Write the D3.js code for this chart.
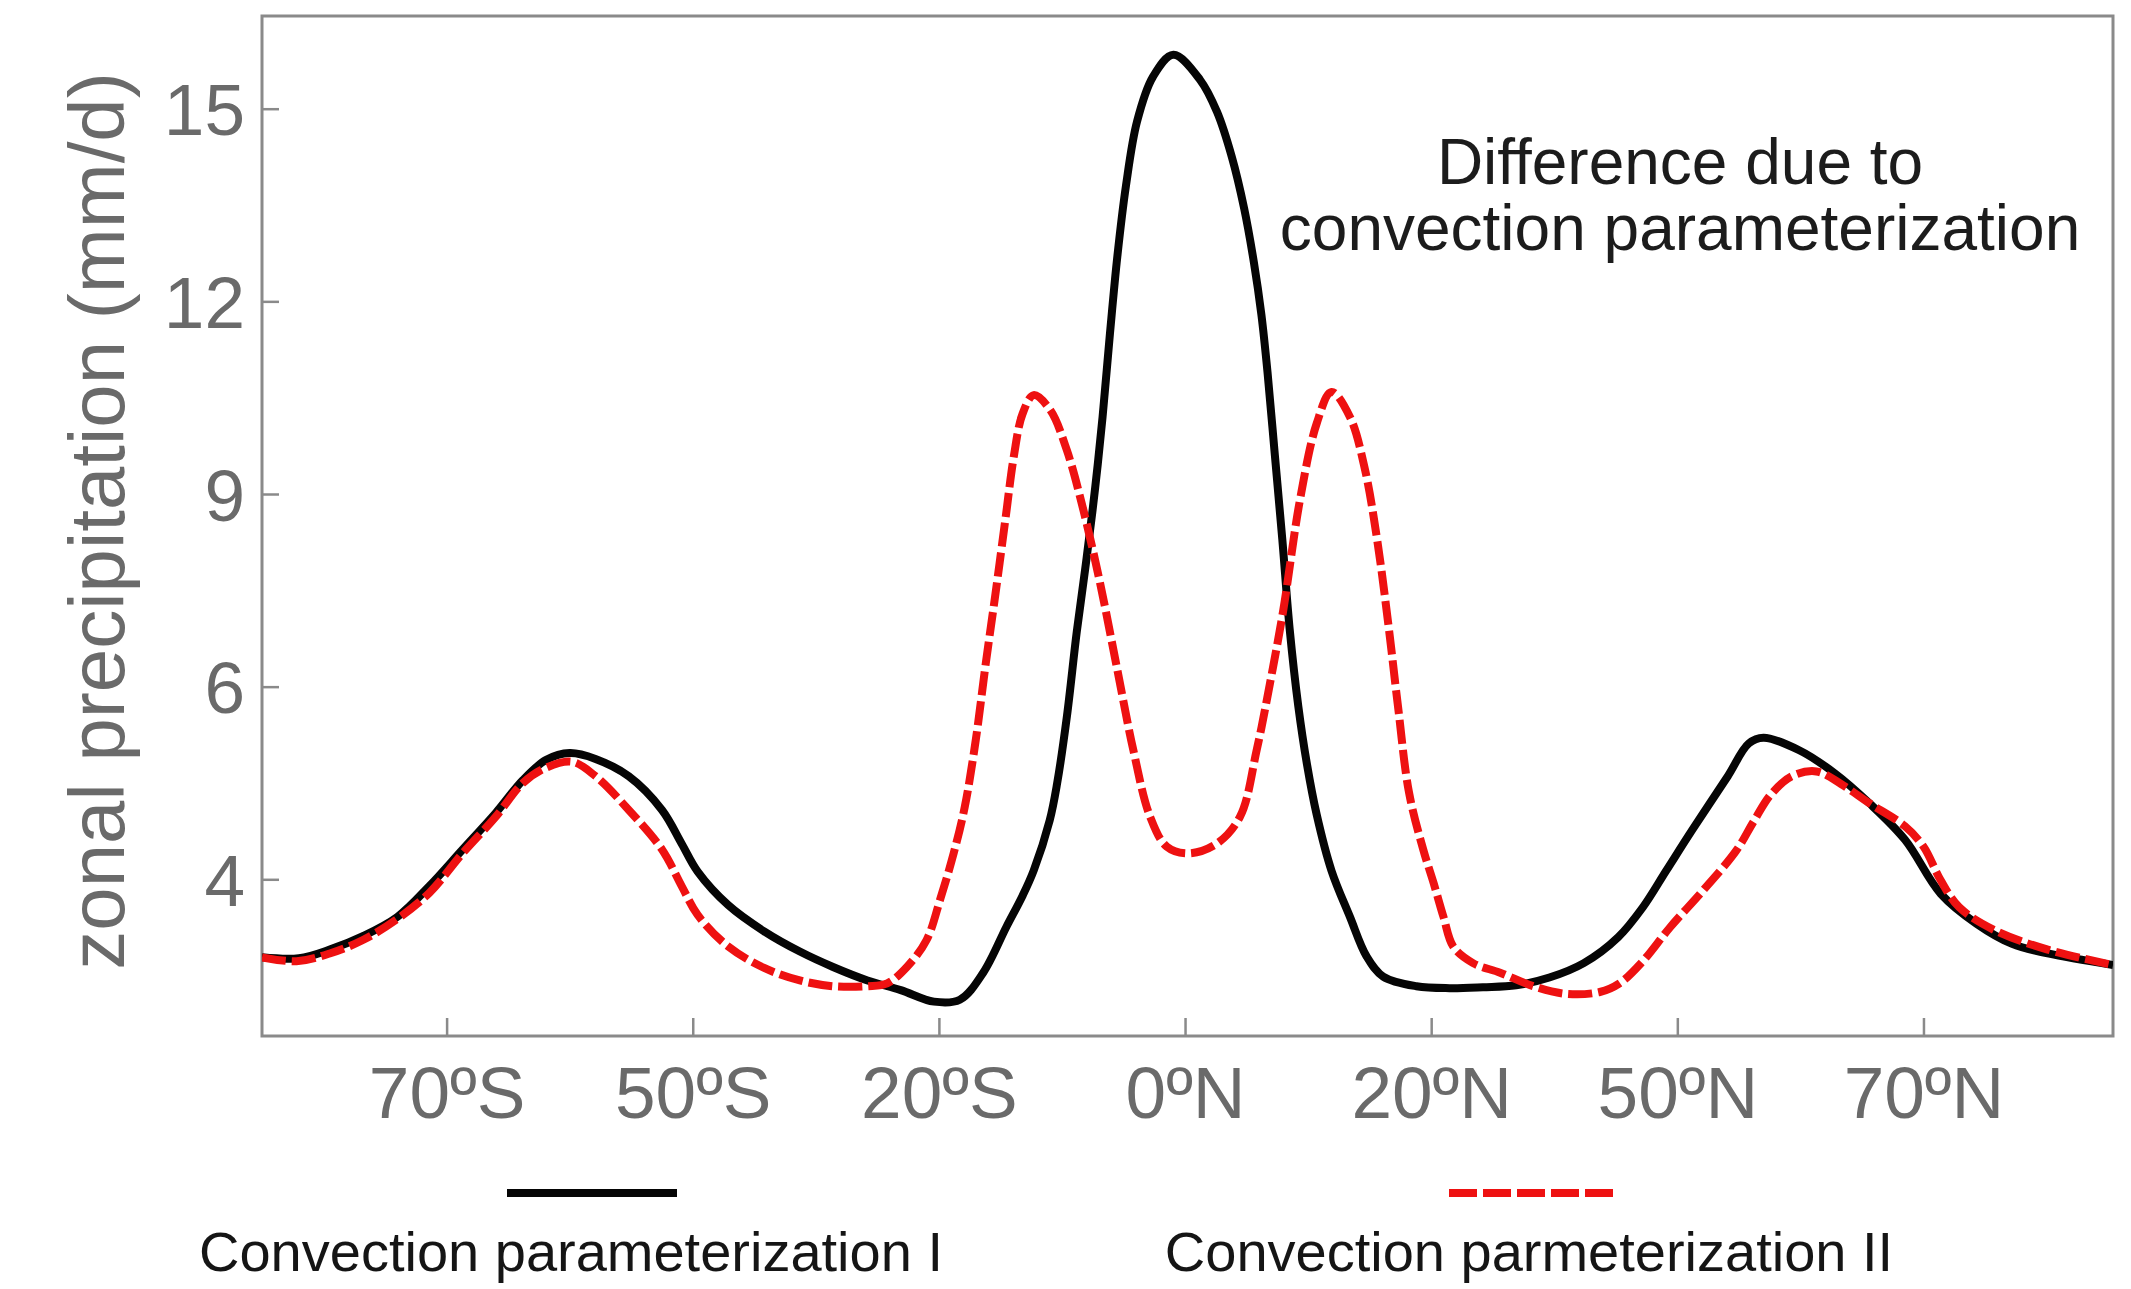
<!DOCTYPE html>
<html>
<head>
<meta charset="utf-8">
<script src="https://cdn.jsdelivr.net/npm/d3@7"></script>
<style>
  html, body { margin: 0; padding: 0; background: #fff; }
  svg { display: block; font-family: "Liberation Sans", Arial, Helvetica, sans-serif; }
</style>
</head>
<body>
<svg id="chart" width="2131" height="1289"></svg>
<script>
// Zonal-mean precipitation (mm/d) against latitude (deg, negative = south)
const latI = [-85, -82, -79.5, -76.8, -74, -71.4, -68.7, -66, -63.8, -61.9, -60, -57.9, -55.2, -52.5,
  -50.9, -49.4, -45.65, -41.3, -36.95, -32.9, -28.7, -24.65, -20.6, -18.3, -16.4, -14.5, -13.2, -12.3,
  -11.0, -10.4, -9.6, -8.8, -8.0, -7.3, -6.7, -6.1, -5.5, -4.8, -3.9, -2.6, -0.95, 1.22, 2.6, 3.8,
  4.8, 5.6, 6.2, 6.7, 7.3, 7.9, 8.5, 9.2, 9.9, 10.7, 11.9, 13.4, 14.75, 16.1, 18.8, 22.25, 26.3, 30.35,
  34.4, 38.6, 42.8, 45.8, 48.65, 51.2, 54.1, 55.8, 57.0, 59.9, 62.8, 65.6, 68.5, 71.4, 74.3, 77.2, 80.1, 85.4];
const precipI = [3.19, 3.18, 3.27, 3.41, 3.61, 3.93, 4.31, 4.69, 5.03, 5.24, 5.31, 5.25, 5.07, 4.72,
  4.37, 4.08, 3.73, 3.46, 3.25, 3.09, 2.95, 2.85, 2.73, 2.75, 3.03, 3.51, 3.83, 4.09,
  4.61, 4.99, 5.69, 6.85, 8.0, 9.1, 10.2, 11.5, 12.7, 13.8, 14.8, 15.5, 15.84, 15.45, 14.95, 14.25,
  13.45, 12.6, 11.8, 10.9, 9.6, 8.3, 6.9, 5.8, 5.2, 4.67, 4.09, 3.61, 3.2, 2.99, 2.89, 2.87, 2.88, 2.9,
  2.98, 3.13, 3.4, 3.71, 4.09, 4.51, 5.07, 5.41, 5.47, 5.34, 5.1, 4.79, 4.41, 3.85, 3.54, 3.33, 3.23, 3.11];

const latII = [-85, -82.2, -79.5, -76.8, -74.1, -71.4, -68.7, -66, -63.8, -61.9, -59.8, -57.9, -55.2, -52.5,
  -50.9, -49.4, -45.65, -41.3, -36.95, -32.9, -28.7, -26.3, -23.9, -21.5, -19.9, -18.8, -17.9, -17.0,
  -16.2, -15.4, -14.6, -13.9, -13.2, -12.3, -10.96, -9.6, -8.26, -6.9, -5.55, -4.2, -2.84, -1.49, 0.27, 2.57,
  4.47, 5.82, 6.9, 7.98, 9.34, 10.7, 11.9, 13.4, 14.6, 15.6, 16.5, 17.3, 18.2, 19.35, 20.3, 21.5, 22.7,
  25.1, 28.4, 32.45, 36.5, 40.55, 42.95, 45.8, 49.1, 52.2, 54.8, 56.2, 57.6, 59.3, 61.3, 63.3, 65.6, 68.5, 70,
  71.4, 72.9, 75.8, 80.1, 85.4];
const precipII = [3.19, 3.15, 3.23, 3.37, 3.58, 3.86, 4.27, 4.65, 5.0, 5.16, 5.22, 5.07, 4.72, 4.31,
  3.93, 3.63, 3.3, 3.08, 2.95, 2.89, 2.89, 2.92, 3.09, 3.37, 3.79, 4.27, 4.75, 5.45,
  6.35, 7.45, 8.6, 9.6, 10.25, 10.54, 10.31, 9.68, 8.75, 7.61, 6.31, 5.34, 4.65, 4.34, 4.27, 4.37,
  4.65, 5.34, 6.05, 7.19, 8.91, 10.1, 10.59, 10.2, 9.4, 8.3, 7.0, 5.8, 4.9, 4.31, 3.96, 3.61, 3.3,
  3.13, 3.03, 2.89, 2.81, 2.83, 2.92, 3.15, 3.5, 3.9, 4.3, 4.6, 4.88, 5.07, 5.12, 4.99, 4.79, 4.55, 4.34,
  3.99, 3.71, 3.47, 3.27, 3.11];

const xTickValues = [-70, -50, -20, 0, 20, 50, 70];
const xTickLabels = ["70ºS", "50ºS", "20ºS", "0ºN", "20ºN", "50ºN", "70ºN"];
const yTickValues = [4, 6, 9, 12, 15];
const yTickLabels = ["4", "6", "9", "12", "15"];
const seriesNames = ["Convection parameterization I", "Convection parmeterization II"];
const noteLines = ["Difference due to", "convection parameterization"];

(function draw() {
  // ---- layout ----
  const svg = d3.select("#chart");
  const pL = 262, pR = 2113, pT = 16, pB = 1036;
  const plotW = pR - pL, plotH = pB - pT;

  // Latitude axis: evenly spaced tick marks over an uneven set of latitudes
  const step = plotW * 20 / 150.4;
  const x0 = pL + plotW * 75 / 150.4;
  const x = d3.scaleLinear()
    .domain([-70, -50, -20, 20, 50, 70])
    .range([x0 - 3 * step, x0 - 2 * step, x0 - step, x0 + step, x0 + 2 * step, x0 + 3 * step]);

  // Precipitation axis: equal spacing between labelled ticks
  const yStep = plotH * 192.65 / 1020;
  const y4 = pT + plotH * 863.3 / 1020;
  const y = d3.scaleLinear()
    .domain([4, 6, 15])
    .range([y4, y4 - yStep, y4 - 4 * yStep]);

  const axisColor = "#8a8a8a";
  const labelColor = "#6a6a6a";

  svg.append("clipPath").attr("id", "plot-clip")
    .append("rect").attr("x", pL).attr("y", pT).attr("width", plotW).attr("height", plotH);

  // y axis with inward ticks
  const yAxis = svg.append("g")
    .attr("transform", `translate(${pL},0)`)
    .call(d3.axisLeft(y).tickValues(yTickValues)
      .tickFormat((d, i) => yTickLabels[i]).tickSize(-17).tickPadding(17));
  yAxis.select(".domain").remove();
  yAxis.selectAll(".tick line").attr("stroke", axisColor).attr("stroke-width", 2.5);
  yAxis.selectAll(".tick text")
    .attr("fill", labelColor).attr("font-size", 73).attr("font-family", "Liberation Sans, Arial, sans-serif")
    .attr("dy", "0.36em");

  // x axis with inward ticks
  const xAxis = svg.append("g")
    .attr("transform", `translate(0,${pB})`)
    .call(d3.axisBottom(x).tickValues(xTickValues)
      .tickFormat((d, i) => xTickLabels[i]).tickSize(-18).tickPadding(30));
  xAxis.select(".domain").remove();
  xAxis.selectAll(".tick line").attr("stroke", axisColor).attr("stroke-width", 2.5);
  xAxis.selectAll(".tick text")
    .attr("fill", labelColor).attr("font-size", 73).attr("font-family", "Liberation Sans, Arial, sans-serif");

  // frame
  svg.append("rect")
    .attr("x", pL).attr("y", pT).attr("width", plotW).attr("height", plotH)
    .attr("fill", "none").attr("stroke", axisColor).attr("stroke-width", 3);

  // y-axis title
  svg.append("text")
    .attr("transform", `translate(124,${(pT + pB) / 2 - 5}) rotate(-90)`)
    .attr("text-anchor", "middle")
    .attr("fill", labelColor)
    .attr("font-size", 78)
    .text("zonal precipitation (mm/d)");

  // curves
  const line = d3.line()
    .x(d => x(d[0]))
    .y(d => y(d[1]))
    .curve(d3.curveCatmullRom.alpha(0.5));

  const dataI = latI.map((v, i) => [v, precipI[i]]);
  const dataII = latII.map((v, i) => [v, precipII[i]]);

  const curves = svg.append("g").attr("clip-path", "url(#plot-clip)");
  curves.append("path")
    .datum(dataI)
    .attr("d", line)
    .attr("fill", "none")
    .attr("stroke", "#050505")
    .attr("stroke-width", 8)
    .attr("stroke-linejoin", "round");
  curves.append("path")
    .datum(dataII)
    .attr("d", line)
    .attr("fill", "none")
    .attr("stroke", "#ee1111")
    .attr("stroke-width", 8)
    .attr("stroke-dasharray", "24,6");

  // annotation
  const note = svg.append("text")
    .attr("text-anchor", "middle")
    .attr("fill", "#1c1c1c")
    .attr("font-size", 64);
  noteLines.forEach((t, i) => {
    note.append("tspan").attr("x", 1680).attr("y", 184 + i * 66).text(t);
  });

  // legend
  const legend = [
    { name: seriesNames[0], x1: 507, x2: 677, tx: 571, stroke: "#050505", dash: null },
    { name: seriesNames[1], x1: 1449, x2: 1616, tx: 1529, stroke: "#ee1111", dash: "28,6" }
  ];
  const lg = svg.append("g");
  legend.forEach(d => {
    lg.append("line")
      .attr("x1", d.x1).attr("x2", d.x2).attr("y1", 1193).attr("y2", 1193)
      .attr("stroke", d.stroke).attr("stroke-width", 8)
      .attr("stroke-dasharray", d.dash);
    lg.append("text")
      .attr("x", d.tx).attr("y", 1271)
      .attr("text-anchor", "middle")
      .attr("fill", "#151515")
      .attr("font-size", 56)
      .text(d.name);
  });
})();
</script>
</body>
</html>
